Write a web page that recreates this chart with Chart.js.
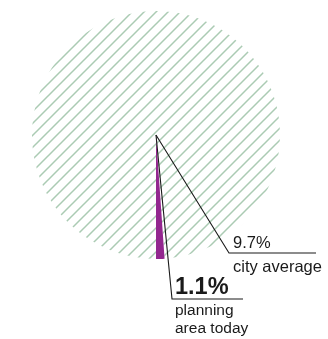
<!DOCTYPE html>
<html>
<head>
<meta charset="utf-8">
<script src="https://cdn.jsdelivr.net/npm/chart.js@4.4.1/dist/chart.umd.min.js"></script>
<style>
  html, body { margin: 0; padding: 0; background: #fff; }
  #wrap { width: 328px; height: 339px; position: relative; }
</style>
</head>
<body>
<div id="wrap"><canvas id="pie"></canvas></div>
<script>
// data
const sliceLabels = ['rest of the city', 'planning area today'];
const sliceValues = [98.9, 1.1];
const cityAverage = 9.7;
const planningLabel = ['planning', 'area today'];
const cityLabel = 'city average';

// diagonal hatch used for the big slice
function makeHatch() {
  const size = 12;
  const c = document.createElement('canvas');
  c.width = size;
  c.height = size;
  const ctx = c.getContext('2d');
  ctx.strokeStyle = 'rgba(150, 190, 160, 0.8)';
  ctx.lineWidth = 1.5;
  ctx.beginPath();
  ctx.moveTo(-2, size + 2);
  ctx.lineTo(size + 2, -2);
  ctx.moveTo(-2, 2);
  ctx.lineTo(2, -2);
  ctx.moveTo(size - 2, size + 2);
  ctx.lineTo(size + 2, size - 2);
  ctx.stroke();
  return ctx.createPattern(c, 'repeat');
}

// leader lines + labels, placed from the arc's own centre
const labelPlugin = {
  id: 'labels',
  afterDraw(chart) {
    const arc = chart.getDatasetMeta(0).data[0];
    const cx = arc.x, cy = arc.y;
    const ctx = chart.ctx;
    ctx.save();
    ctx.strokeStyle = '#1a1a1a';
    ctx.fillStyle = '#1a1a1a';
    ctx.lineWidth = 1.1;

    // city average leader
    const ax = cx + 73, ay = cy + 118;
    ctx.beginPath();
    ctx.moveTo(cx, cy);
    ctx.lineTo(ax, ay);
    ctx.lineTo(ax + 87, ay);
    ctx.stroke();
    ctx.font = '16.5px "Liberation Sans", Arial, sans-serif';
    ctx.textBaseline = 'alphabetic';
    ctx.fillText(cityAverage.toFixed(1) + '%', ax + 4, ay - 5);
    ctx.fillText(cityLabel, ax + 4, ay + 19);

    // planning area leader
    const px = cx + 16, py = cy + 164;
    ctx.beginPath();
    ctx.moveTo(cx, cy);
    ctx.lineTo(px, py);
    ctx.lineTo(px + 71, py);
    ctx.stroke();
    ctx.font = 'bold 23.5px "Liberation Sans", Arial, sans-serif';
    ctx.fillText(sliceValues[1].toFixed(1) + '%', px + 3, py - 5);
    ctx.font = '15.5px "Liberation Sans", Arial, sans-serif';
    ctx.fillText(planningLabel[0], px + 3, py + 16);
    ctx.fillText(planningLabel[1], px + 3, py + 34);
    ctx.restore();
  }
};

new Chart(document.getElementById('pie').getContext('2d'), {
  type: 'pie',
  data: {
    labels: sliceLabels,
    datasets: [{
      data: sliceValues,
      backgroundColor: [makeHatch(), '#93278f'],
      borderWidth: 0
    }]
  },
  options: {
    responsive: true,
    maintainAspectRatio: false,
    animation: false,
    rotation: 180,
    layout: { padding: { left: 32, right: 48, top: 11, bottom: 80 } },
    plugins: {
      legend: { display: false },
      tooltip: { enabled: false }
    }
  },
  plugins: [labelPlugin]
});
</script>
</body>
</html>
